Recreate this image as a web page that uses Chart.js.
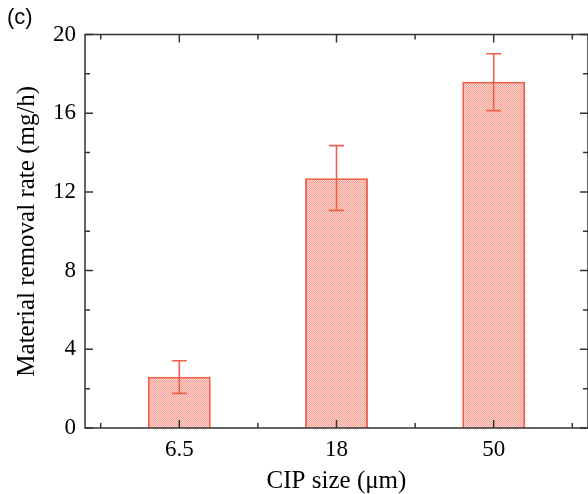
<!DOCTYPE html>
<html>
<head>
<meta charset="utf-8">
<script src="https://cdn.jsdelivr.net/npm/chart.js@4/dist/chart.umd.min.js"></script>
<style>
  html, body { margin: 0; padding: 0; background: #fff; }
  #wrap { width: 588px; height: 494px; position: relative; }
</style>
</head>
<body>
<div id="wrap"><canvas id="c"></canvas></div>
<script>
// ---- data ----
const categories = ['6.5', '18', '50'];
const removalRate = [2.6, 12.7, 17.6];
const errorTop = [3.42, 14.35, 19.02];
const errorBottom = [1.76, 11.06, 16.13];
const yTicks = [0, 4, 8, 12, 16, 20];
const yMinorTicks = [2, 6, 10, 14, 18];
const xMinorTicks = [0.5, 1.5, 2.5, 3.5];

const panelLabel = '(c)';
const xTitle = 'CIP size (\u03bcm)';
const yTitle = 'Material removal rate (mg/h)';

const barEdge = '#F0604C';
const frameColor = '#333333';

// dotted fill pattern
function makePattern() {
  const p = document.createElement('canvas');
  p.width = 2; p.height = 2;
  const g = p.getContext('2d');
  g.fillStyle = 'rgb(253,215,208)';
  g.fillRect(0, 0, 2, 2);
  g.fillStyle = 'rgb(243,158,146)';
  g.fillRect(0, 0, 1, 1);
  g.fillRect(1, 1, 1, 1);
  return g.createPattern(p, 'repeat');
}

const frameAndTicks = {
  id: 'frameAndTicks',
  afterDatasetsDraw(chart) {
    const ctx = chart.ctx;
    const xs = chart.scales.x, ys = chart.scales.y;
    // error bars
    ctx.save();
    ctx.strokeStyle = barEdge;
    ctx.lineWidth = 1.6;
    const cap = 7.5;
    categories.forEach((c, i) => {
      const px = xs.getPixelForValue(i + 1);
      const t = ys.getPixelForValue(errorTop[i]);
      const b = ys.getPixelForValue(errorBottom[i]);
      ctx.beginPath();
      ctx.moveTo(px, t); ctx.lineTo(px, b);
      ctx.moveTo(px - cap, t); ctx.lineTo(px + cap, t);
      ctx.moveTo(px - cap, b); ctx.lineTo(px + cap, b);
      ctx.stroke();
    });
    ctx.restore();
  },
  afterDraw(chart) {
    const ctx = chart.ctx;
    const a = chart.chartArea;
    const xs = chart.scales.x, ys = chart.scales.y;
    ctx.save();
    ctx.strokeStyle = frameColor;
    ctx.lineWidth = 1.5;
    ctx.strokeRect(a.left, a.top, a.right - a.left, a.bottom - a.top);
    const major = 8, minor = 5;
    ctx.beginPath();
    categories.forEach((c, i) => {
      const px = xs.getPixelForValue(i + 1);
      ctx.moveTo(px, a.bottom); ctx.lineTo(px, a.bottom - major);
      ctx.moveTo(px, a.top); ctx.lineTo(px, a.top + major);
    });
    xMinorTicks.forEach(v => {
      const px = xs.getPixelForValue(v);
      ctx.moveTo(px, a.bottom); ctx.lineTo(px, a.bottom - minor);
      ctx.moveTo(px, a.top); ctx.lineTo(px, a.top + minor);
    });
    yTicks.forEach(v => {
      const py = ys.getPixelForValue(v);
      ctx.moveTo(a.left, py); ctx.lineTo(a.left + major, py);
      ctx.moveTo(a.right, py); ctx.lineTo(a.right - major, py);
    });
    yMinorTicks.forEach(v => {
      const py = ys.getPixelForValue(v);
      ctx.moveTo(a.left, py); ctx.lineTo(a.left + minor, py);
      ctx.moveTo(a.right, py); ctx.lineTo(a.right - minor, py);
    });
    ctx.stroke();
    // panel label
    ctx.fillStyle = '#000';
    ctx.font = '22px "Liberation Sans", Arial, sans-serif';
    ctx.textBaseline = 'top';
    ctx.textAlign = 'left';
    ctx.fillText(panelLabel, 7, 7);
    ctx.restore();
  }
};

new Chart(document.getElementById('c'), {
  type: 'bar',
  data: {
    datasets: [{
      data: removalRate.map((v, i) => ({ x: i + 1, y: v })),
      backgroundColor: makePattern(),
      borderColor: barEdge,
      borderWidth: 2,
      categoryPercentage: 1,
      barPercentage: 0.4
    }]
  },
  options: {
    responsive: true,
    maintainAspectRatio: false,
    animation: false,
    layout: { padding: { top: 34.5, left: 0, right: 0, bottom: 0 } },
    plugins: { legend: { display: false }, tooltip: { enabled: false } },
    scales: {
      x: {
        type: 'linear',
        min: 0.4, max: 3.6,
        offset: false,
        grid: { display: false, drawTicks: false },
        border: { display: false },
        afterBuildTicks: (s) => { s.ticks = categories.map((c, i) => ({ value: i + 1 })); },
        afterFit: (s) => { s.height = 66; },
        ticks: {
          autoSkip: false,
          maxRotation: 0,
          padding: 8,
          color: '#000',
          font: { family: '"Liberation Serif", "Times New Roman", serif', size: 23 },
          callback: (v) => categories[Math.round(v) - 1]
        },
        title: {
          display: true,
          text: xTitle,
          color: '#000',
          font: { family: '"Liberation Serif", "Times New Roman", serif', size: 25, lineHeight: 1 },
          padding: { top: 0, bottom: 0 }
        }
      },
      y: {
        min: 0, max: 20,
        grid: { display: false, drawTicks: false },
        border: { display: false },
        afterBuildTicks: (s) => { s.ticks = yTicks.map(v => ({ value: v })); },
        afterFit: (s) => { s.width = 85; },
        ticks: {
          padding: 9,
          color: '#000',
          font: { family: '"Liberation Serif", "Times New Roman", serif', size: 23 }
        },
        title: {
          display: true,
          text: yTitle,
          color: '#000',
          font: { family: '"Liberation Serif", "Times New Roman", serif', size: 25, lineHeight: 1 },
          padding: { top: 15, bottom: 0 }
        }
      }
    }
  },
  plugins: [frameAndTicks]
});
</script>
</body>
</html>
